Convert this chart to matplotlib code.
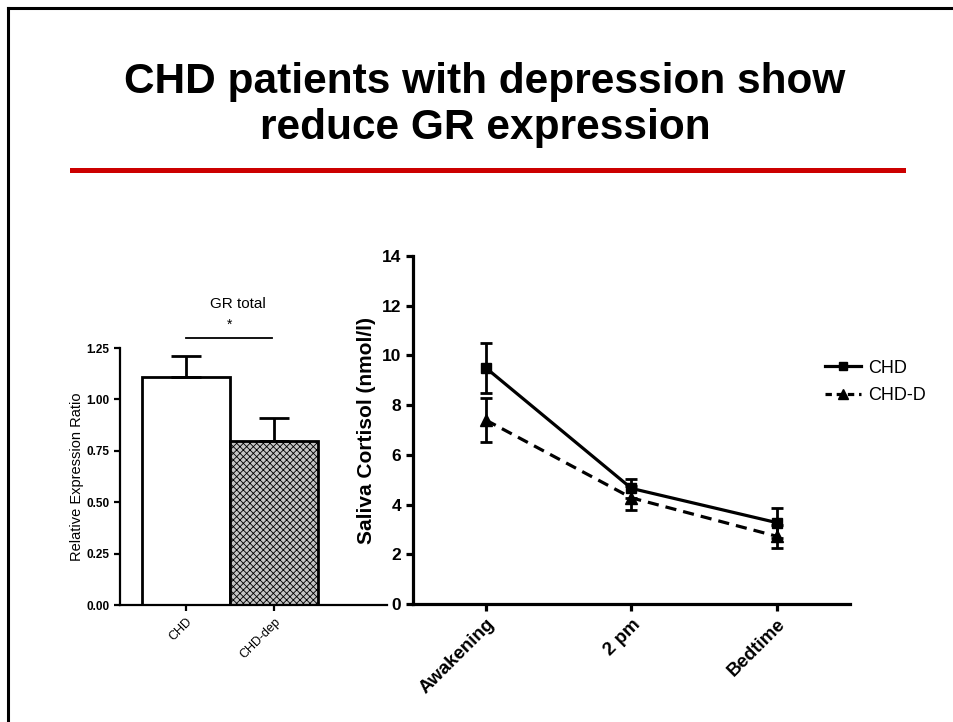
import numpy as np
import matplotlib
matplotlib.use('Agg')
import matplotlib.pyplot as plt
from matplotlib.lines import Line2D

plt.rcParams['font.family'] = ['Liberation Sans', 'DejaVu Sans']
plt.rcParams['hatch.linewidth'] = 0.6

# left panel: GR total expression
groups = ['CHD', 'CHD-dep']
ratio = [1.11, 0.80]
ratio_err = [0.10, 0.11]

# right panel: saliva cortisol
times = ['Awakening', '2 pm', 'Bedtime']
chd = [9.5, 4.65, 3.27]
chd_err = [1.0, 0.38, 0.6]
chdd = [7.4, 4.27, 2.72]
chdd_err = [0.9, 0.47, 0.46]

fig = plt.figure(figsize=(9.54, 7.22), dpi=100)

# slide frame (left and top edges only)
fig.add_artist(Line2D([8/954, 8/954], [0, 1 - 8/722], color='black', lw=2.2, transform=fig.transFigure))
fig.add_artist(Line2D([8/954, 1], [1 - 8/722, 1 - 8/722], color='black', lw=2.2, transform=fig.transFigure))

fig.text(485/954, 1 - 93/722, 'CHD patients with depression show', ha='center', va='baseline',
         fontsize=30.5, fontweight='bold')
fig.text(485/954, 1 - 139/722, 'reduce GR expression', ha='center', va='baseline',
         fontsize=30.5, fontweight='bold')
fig.add_artist(Line2D([72/954, 903/954], [1 - 170/722, 1 - 170/722], color='#cc0000', lw=3.6,
                      transform=fig.transFigure))

# ---- bar chart
ax1 = fig.add_axes([120/954, 1 - 605/722, 267/954, 257/722])
x1 = np.arange(len(groups))
ax1.bar(x1[0], ratio[0], width=1.0, color='white', edgecolor='black', lw=2)
ax1.bar(x1[1], ratio[1], width=1.0, color='#c4c4c4', edgecolor='black', lw=2, hatch='xxxxx')
ax1.errorbar(x1, ratio, yerr=[np.zeros(2), ratio_err], fmt='none', ecolor='black',
             elinewidth=2, capsize=11, capthick=2)
ax1.set_xlim(-0.75, 2.28)
ax1.set_ylim(0, 1.25)
ax1.set_yticks([0, 0.25, 0.5, 0.75, 1.0, 1.25])
ax1.set_yticklabels(['0.00', '0.25', '0.50', '0.75', '1.00', '1.25'], fontsize=8.5, fontweight='bold')
ax1.set_xticks(x1)
ax1.set_xticklabels(groups, rotation=45, ha='right', rotation_mode='anchor', fontsize=9)
ax1.set_ylabel('Relative Expression Ratio', fontsize=10.5, labelpad=2)
ax1.spines[['top', 'right']].set_visible(False)
ax1.spines[['left', 'bottom']].set_linewidth(1.6)
ax1.tick_params(width=1.6, length=4)
ax1.plot([x1[0], x1[1] - 0.03], [1.30, 1.30], color='black', lw=1.3, clip_on=False)
ax1.text(0.49, 1.33, '*', ha='center', va='bottom', fontsize=10)
ax1.text(0.59, 1.43, 'GR total', ha='center', va='bottom', fontsize=11)

# ---- line chart
ax2 = fig.add_axes([413/954, 1 - 604/722, 437/954, 348/722])
x2 = np.arange(len(times))
ax2.errorbar(x2, chd, yerr=chd_err, color='black', lw=2.3, marker='s', ms=7,
             capsize=4.5, capthick=2, elinewidth=2)
ax2.errorbar(x2, chdd, yerr=chdd_err, color='black', lw=2.3, ls=(0, (3.5, 2.2)), marker='^', ms=8,
             capsize=4.5, capthick=2, elinewidth=2)
ax2.set_xlim(-0.5, 2.5)
ax2.set_ylim(0, 14)
ax2.set_yticks(range(0, 15, 2))
ax2.set_yticklabels([str(v) for v in range(0, 15, 2)], fontsize=12.5, fontweight='bold')
ax2.set_xticks(x2)
ax2.set_xticklabels(times, rotation=45, ha='right', rotation_mode='anchor', fontsize=13.5, fontweight='bold')
ax2.set_ylabel('Saliva Cortisol (nmol/l)', fontsize=15, fontweight='bold', labelpad=4)
ax2.spines[['top', 'right']].set_visible(False)
ax2.spines[['left', 'bottom']].set_linewidth(2.3)
ax2.tick_params(width=2.3, length=5)

handles = [Line2D([], [], color='black', lw=2.3, marker='s', ms=6),
           Line2D([], [], color='black', lw=2.3, ls=(0, (2, 1.5)), marker='^', ms=7)]
ax2.legend(handles, ['CHD', 'CHD-D'], loc='center left', bbox_to_anchor=(809/954, 1 - 382/722),
           bbox_transform=fig.transFigure, frameon=False, fontsize=13, handlelength=2.0,
           labelspacing=0.6, handletextpad=0.35)

fig.savefig('out.png', dpi=100)
